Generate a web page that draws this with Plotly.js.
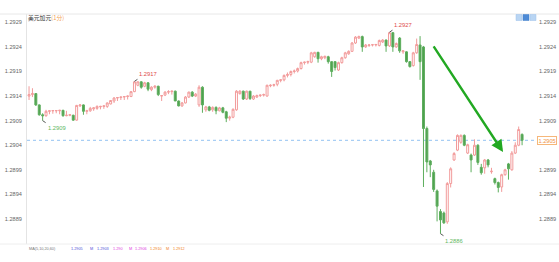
<!DOCTYPE html>
<html><head><meta charset="utf-8">
<script src="https://cdn.plot.ly/plotly-3.0.1.min.js"></script>
<style>html,body{margin:0;padding:0;background:#fff;}#chart{width:559px;height:262px;}</style>
</head><body><div id="chart"></div>
<script>
// USD/CAD 1-minute candles
const openP = [1.29140,1.29143,1.29145,1.29122,1.29102,1.29100,1.29109,1.29110,1.29110,1.29110,
1.29111,1.29100,1.29101,1.29101,1.29091,1.29120,1.29122,1.29109,1.29110,1.29114,
1.29115,1.29118,1.29119,1.29119,1.29124,1.29130,1.29136,1.29137,1.29138,1.29139,
1.29139,1.29149,1.29162,1.29169,1.29160,1.29167,1.29153,1.29158,1.29160,1.29140,
1.29142,1.29148,1.29149,1.29150,1.29130,1.29120,1.29126,1.29138,1.29148,1.29140,
1.29122,1.29158,1.29112,1.29118,1.29112,1.29117,1.29110,1.29116,1.29108,1.29095,
1.29097,1.29112,1.29145,1.29150,1.29134,1.29150,1.29134,1.29138,1.29141,1.29142,
1.29140,1.29161,1.29162,1.29164,1.29172,1.29173,1.29182,1.29184,1.29190,1.29191,
1.29196,1.29208,1.29209,1.29209,1.29220,1.29229,1.29216,1.29218,1.29220,1.29210,
1.29210,1.29193,1.29208,1.29218,1.29226,1.29231,1.29248,1.29258,1.29261,1.29240,
1.29243,1.29244,1.29244,1.29243,1.29250,1.29254,1.29242,1.29269,1.29240,1.29258,
1.29230,1.29230,1.29210,1.29202,1.29228,1.29244,1.29240,1.29074,1.29008,1.28985,
1.28947,1.28905,1.28902,1.28884,1.28962,1.29010,1.29030,1.29046,1.29060,1.29024,
1.29020,1.29020,1.29040,1.28995,1.28994,1.29010,1.28986,1.28972,1.28964,1.28955,
1.28980,1.29002,1.28990,1.29024,1.29040,1.29062];
const highP = [1.29160,1.29156,1.29146,1.29123,1.29105,1.29112,1.29111,1.29111,1.29111,1.29112,
1.29112,1.29110,1.29103,1.29102,1.29122,1.29123,1.29123,1.29112,1.29118,1.29117,
1.29121,1.29120,1.29121,1.29127,1.29132,1.29138,1.29138,1.29139,1.29140,1.29141,
1.29150,1.29170,1.29170,1.29170,1.29169,1.29168,1.29160,1.29162,1.29161,1.29142,
1.29150,1.29152,1.29151,1.29151,1.29131,1.29128,1.29140,1.29149,1.29150,1.29146,
1.29162,1.29160,1.29120,1.29120,1.29119,1.29119,1.29118,1.29118,1.29110,1.29100,
1.29115,1.29152,1.29152,1.29151,1.29151,1.29150,1.29142,1.29143,1.29143,1.29145,
1.29163,1.29164,1.29165,1.29173,1.29174,1.29184,1.29188,1.29192,1.29194,1.29198,
1.29210,1.29210,1.29212,1.29230,1.29230,1.29230,1.29222,1.29222,1.29222,1.29211,
1.29211,1.29210,1.29220,1.29230,1.29233,1.29250,1.29262,1.29263,1.29263,1.29246,
1.29246,1.29246,1.29246,1.29255,1.29256,1.29255,1.29270,1.29270,1.29249,1.29260,
1.29233,1.29231,1.29211,1.29230,1.29257,1.29262,1.29242,1.29078,1.29010,1.28990,
1.28950,1.28910,1.28905,1.28965,1.28995,1.29026,1.29062,1.29062,1.29062,1.29043,
1.29023,1.29052,1.29042,1.29002,1.29012,1.29012,1.28994,1.28974,1.28966,1.28982,
1.28992,1.29004,1.29028,1.29046,1.29078,1.29064];
const lowP = [1.29132,1.29138,1.29120,1.29100,1.29090,1.29098,1.29103,1.29104,1.29105,1.29103,
1.29098,1.29099,1.29099,1.29090,1.29090,1.29118,1.29102,1.29103,1.29108,1.29110,
1.29112,1.29113,1.29114,1.29116,1.29123,1.29126,1.29130,1.29132,1.29132,1.29133,
1.29138,1.29148,1.29160,1.29155,1.29158,1.29150,1.29150,1.29155,1.29140,1.29130,
1.29140,1.29144,1.29143,1.29130,1.29119,1.29118,1.29125,1.29136,1.29138,1.29138,
1.29118,1.29106,1.29108,1.29109,1.29108,1.29103,1.29109,1.29105,1.29087,1.29090,
1.29095,1.29110,1.29143,1.29132,1.29132,1.29132,1.29132,1.29136,1.29138,1.29139,
1.29139,1.29158,1.29159,1.29160,1.29168,1.29170,1.29178,1.29180,1.29186,1.29188,
1.29194,1.29204,1.29205,1.29207,1.29218,1.29208,1.29213,1.29215,1.29206,1.29179,
1.29192,1.29191,1.29206,1.29216,1.29224,1.29230,1.29246,1.29256,1.29230,1.29238,
1.29240,1.29241,1.29241,1.29241,1.29248,1.29230,1.29240,1.29230,1.29238,1.29228,
1.29226,1.29208,1.29198,1.29200,1.29226,1.29173,1.28955,1.28985,1.28975,1.28945,
1.28885,1.28860,1.28880,1.28880,1.28954,1.29008,1.29028,1.29043,1.29038,1.29022,
1.28985,1.29018,1.29000,1.28980,1.28982,1.28995,1.28982,1.28960,1.28944,1.28945,
1.28978,1.28970,1.28988,1.29022,1.29038,1.29040];
const closeP = [1.29143,1.29145,1.29122,1.29102,1.29100,1.29109,1.29110,1.291105,1.291105,1.29111,
1.29100,1.29101,1.29102,1.29091,1.29121,1.29122,1.29109,1.29110,1.29115,1.29116,
1.29119,1.29119,1.29120,1.29126,1.29131,1.29136,1.29137,1.29138,1.29139,1.29140,
1.29149,1.29169,1.29169,1.29158,1.29167,1.29154,1.29158,1.29160,1.29143,1.29141,
1.29148,1.29149,1.29150,1.29130,1.29120,1.29126,1.29138,1.29148,1.29140,1.29144,
1.29158,1.29122,1.29118,1.29111,1.29117,1.29110,1.29116,1.29107,1.29095,1.29097,
1.29113,1.29150,1.29150,1.29134,1.29150,1.29135,1.29140,1.29141,1.29142,1.29143,
1.29162,1.29162,1.29163,1.29172,1.29173,1.29182,1.29184,1.29190,1.29191,1.29196,
1.29208,1.29209,1.29210,1.29228,1.29229,1.29216,1.29220,1.29221,1.29210,1.29190,
1.29198,1.29208,1.29218,1.29228,1.29231,1.29248,1.29260,1.29261,1.29240,1.29244,
1.29244,1.292445,1.29245,1.29253,1.29254,1.29242,1.29269,1.29240,1.29247,1.29232,
1.29232,1.29210,1.29200,1.29228,1.29245,1.29210,1.29074,1.29006,1.29000,1.28950,
1.28916,1.28888,1.28882,1.28962,1.28992,1.29023,1.29060,1.29060,1.29040,1.29041,
1.29010,1.29040,1.29005,1.28984,1.29010,1.29000,1.28987,1.28964,1.28954,1.28980,
1.28990,1.28992,1.29024,1.29040,1.29072,1.29050];

const tickVals = [1.2889,1.2894,1.2899,1.2904,1.2909,1.2914,1.2919,1.2924,1.2929];
const tickText = ['1.2889','1.2894','1.2899','1.2904','1.2909','1.2914','1.2919','1.2924','1.2929'];
// right-hand scale: the 1.2904 slot is covered by the live-price tag
const rightTickVals = [1.2889,1.2894,1.2899,1.2909,1.2914,1.2919,1.2924,1.2929];
const rightTickText = ['1.2889','1.2894','1.2899','1.2909','1.2914','1.2919','1.2924','1.2929'];

// marked extremes: candle index and which side
const markIdx = [4, 31, 106, 121];
const markSide = ['low', 'high', 'high', 'low'];

// trend arrow (start / end) in data units
const arrowFrom = {x: 118.7, y: 1.29244};
const arrowTo = {x: 139.4, y: 1.29026};

const legendParts = [
  {t: 'MA(5,10,20,60)', c: '#777777', px: 27},
  {t: '1.2905', c: '#5050d8', px: 69},
  {t: 'M', c: '#5050d8', px: 88},
  {t: '1.2903', c: '#5050d8', px: 95},
  {t: '1.290', c: '#e040e0', px: 111},
  {t: 'M', c: '#e040e0', px: 127},
  {t: '1.2906', c: '#e040e0', px: 133},
  {t: '1.2910', c: '#f08020', px: 148},
  {t: 'M', c: '#f08020', px: 164},
  {t: '1.2912', c: '#f08020', px: 171}
];

const idx = openP.map((_, i) => i);
const W = 559, H = 262, ML = 27, MR = 24, MT = 14, MB = 18;
const PW = W - ML - MR, PH = H - MT - MB;
const px2x = px => (px - ML) / PW;
const py2y = py => (H - MB - py) / PH;

const numFont = {family: 'Liberation Sans, Arial, sans-serif', size: 5.6, color: '#666'};

const traces = [
  {
    type: 'candlestick', x: idx, open: openP, high: highP, low: lowP, close: closeP,
    increasing: {line: {color: '#f29b9b', width: 1}, fillcolor: '#ffffff'},
    decreasing: {line: {color: '#5dae5d', width: 1}, fillcolor: '#4f9f4f'},
    whiskerwidth: 0, hoverinfo: 'skip', showlegend: false, xaxis: 'x', yaxis: 'y'
  },
  {
    type: 'scatter', mode: 'lines', x: idx, y: closeP, yaxis: 'y2',
    line: {width: 0, color: 'rgba(0,0,0,0)'}, opacity: 0, hoverinfo: 'skip', showlegend: false
  }
];

const yRange = [1.28839, 1.29307];
const last = closeP.length - 1;

const annotations = [];
markIdx.forEach((i, k) => {
  const isHigh = markSide[k] === 'high';
  const v = isHigh ? highP[i] : lowP[i];
  annotations.push({
    x: i, y: v, xref: 'x', yref: 'y', text: v.toFixed(4),
    showarrow: true, arrowhead: 0, arrowwidth: 1, arrowcolor: '#555',
    ax: 3, ay: isHigh ? -2 : 2, standoff: 0,
    xanchor: 'left', yanchor: isHigh ? 'bottom' : 'top',
    font: {family: 'Liberation Sans, Arial, sans-serif', size: 5.8, color: isHigh ? '#e04a4a' : '#5fb85f'}
  });
});
// trend arrow
annotations.push({
  x: arrowTo.x, y: arrowTo.y, ax: arrowFrom.x, ay: arrowFrom.y, axref: 'x', ayref: 'y',
  xref: 'x', yref: 'y', text: '', showarrow: true, arrowhead: 2, arrowsize: 1,
  arrowwidth: 2.4, arrowcolor: '#22a822'
});
// current price tag
annotations.push({
  xref: 'paper', x: 1, xshift: 2, xanchor: 'left', yref: 'y', y: closeP[last],
  text: closeP[last].toFixed(4), showarrow: false, bgcolor: '#ffffff',
  bordercolor: '#f6b77a', borderwidth: 1, borderpad: 0.5,
  font: {family: 'Liberation Sans, Arial, sans-serif', size: 5.6, color: '#f09040'}
});
// bottom legend row
legendParts.forEach(p => {
  annotations.push({
    xref: 'paper', yref: 'paper', x: px2x(p.px), y: 0, yshift: -1, xanchor: 'left', yanchor: 'top',
    text: p.t, showarrow: false,
    font: {family: 'Liberation Sans, Arial, sans-serif', size: 3.8, color: p.c}
  });
});

const shapes = [
  {type: 'line', xref: 'paper', yref: 'paper', x0: px2x(0), x1: px2x(W), y0: 1, y1: 1, line: {color: '#e8e8e8', width: 1}},
  {type: 'line', xref: 'paper', yref: 'paper', x0: px2x(0), x1: px2x(W), y0: 0, y1: 0, line: {color: '#eeeeee', width: 1}},
  {type: 'line', xref: 'paper', yref: 'y', x0: 0, x1: 1, y0: closeP[last], y1: closeP[last], line: {color: '#93c2f2', width: 1, dash: 'dot'}, layer: 'below'},
  {type: 'rect', xref: 'paper', yref: 'paper', x0: px2x(516), x1: px2x(522), y0: py2y(20.5), y1: py2y(14.5), fillcolor: '#b9d5f3', line: {color: '#9cc0ea', width: 0.5}},
  {type: 'rect', xref: 'paper', yref: 'paper', x0: px2x(523), x1: px2x(529), y0: py2y(20.5), y1: py2y(14.5), fillcolor: '#4d8ad6', line: {color: '#3f7cc9', width: 0.5}},
  {type: 'rect', xref: 'paper', yref: 'paper', x0: px2x(530), x1: px2x(536), y0: py2y(20.5), y1: py2y(14.5), fillcolor: '#b9d5f3', line: {color: '#9cc0ea', width: 0.5}}
];

const layout = {
  width: W, height: H,
  margin: {l: ML, r: MR, t: MT, b: MB, pad: 0},
  paper_bgcolor: '#ffffff', plot_bgcolor: '#ffffff',
  showlegend: false, boxgap: 0.18,
  title: {
    text: '美元加元<span style="color:#f2a050">(1分)</span>',
    x: 28 / W, xanchor: 'left', xref: 'container',
    y: 1 - 17.8 / H, yanchor: 'middle', yref: 'container',
    font: {family: 'Noto Sans CJK SC, Liberation Sans, sans-serif', size: 5.8, color: '#333'}
  },
  xaxis: {
    range: [-0.6, 148.8], visible: false, showgrid: false, zeroline: false,
    rangeslider: {visible: false}, fixedrange: true
  },
  yaxis: {
    range: yRange, tickmode: 'array', tickvals: tickVals, ticktext: tickText,
    showgrid: false, zeroline: false, showline: true, linecolor: '#e4e4e4', linewidth: 1,
    ticks: '', ticklabelstandoff: 3, tickfont: numFont, side: 'left'
  },
  yaxis2: {
    range: yRange, overlaying: 'y', side: 'right', tickmode: 'array', tickvals: rightTickVals, ticktext: rightTickText,
    showgrid: false, zeroline: false, showline: false, ticks: '', ticklabelstandoff: 3, tickfont: numFont
  },
  shapes: shapes,
  annotations: annotations,
  font: {family: 'Liberation Sans, Noto Sans CJK SC, sans-serif'}
};

Plotly.newPlot('chart', traces, layout, {staticPlot: true, displayModeBar: false});
</script>
</body></html>
